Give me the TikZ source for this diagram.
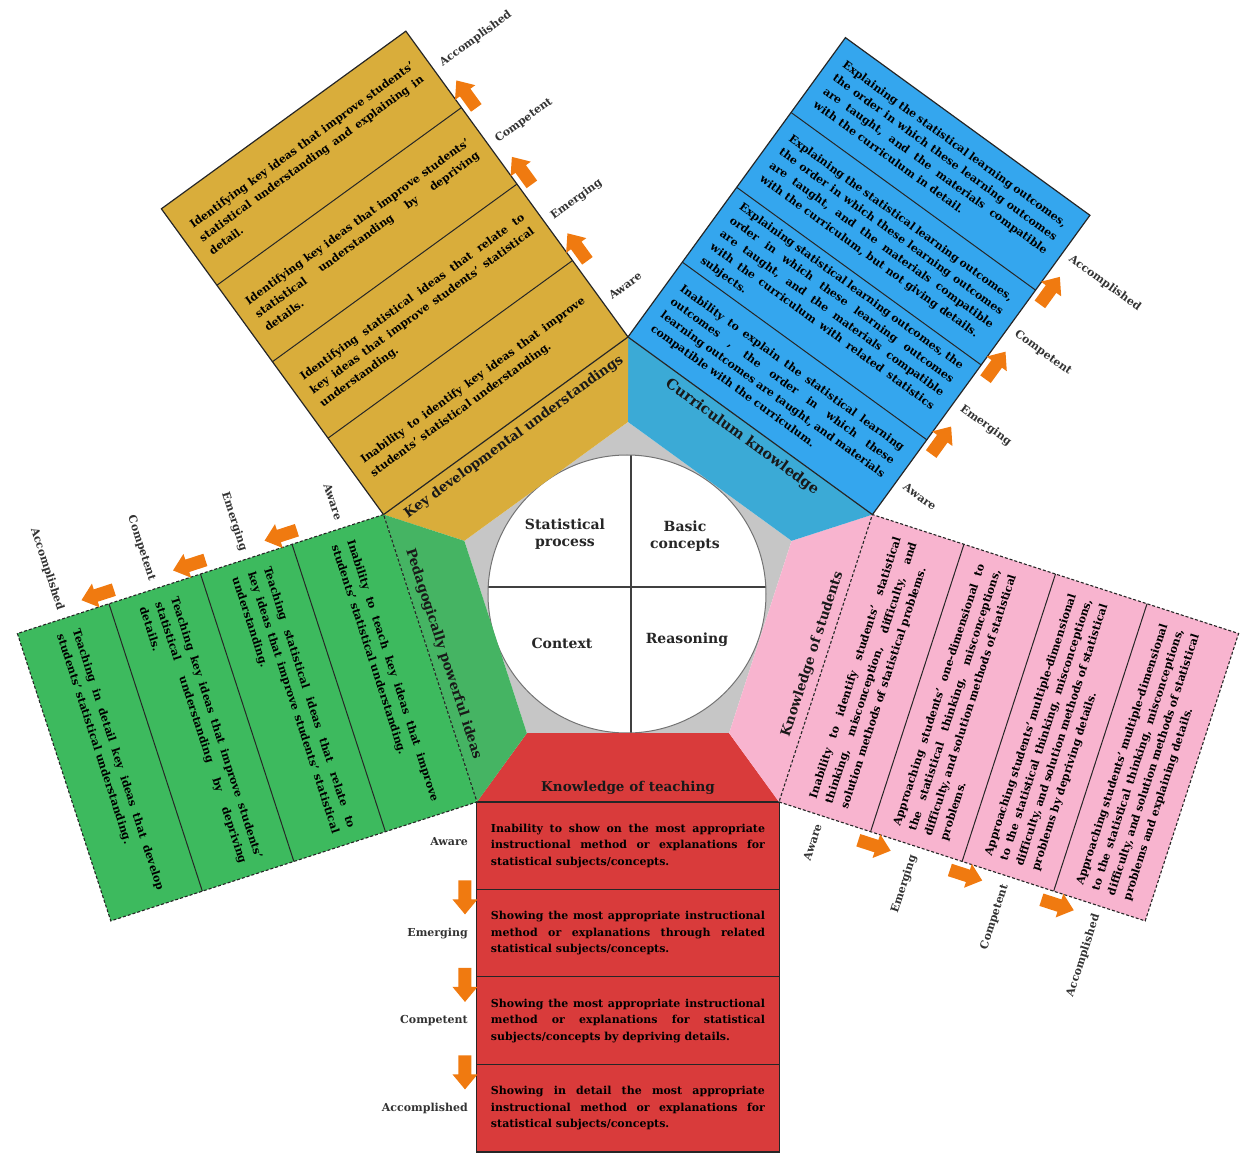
\documentclass[tikz,border=0pt]{standalone}
\usepackage{fontspec}
\setmainfont{DejaVu Serif}
\usetikzlibrary{calc}
\hyphenpenalty=10000 \exhyphenpenalty=10000 \tolerance=9999 \emergencystretch=3em
\definecolor{redc}{HTML}{D93B3B}
\definecolor{pinkc}{HTML}{F8B4CF}
\definecolor{bluec}{HTML}{34A6EE}
\definecolor{bluet}{HTML}{3BAAD6}
\definecolor{yelc}{HTML}{D9AD3B}
\definecolor{greenc}{HTML}{3DBA5E}
\definecolor{greent}{HTML}{45B463}
\definecolor{greyc}{HTML}{C6C6C6}
\definecolor{arrc}{HTML}{F07A10}
\tikzset{
  cellline/.style={line width=1pt, draw=black!85},
  celltext/.style={text width=274pt, align=justify, inner sep=0pt, text=black,
    font=\bfseries\fontsize{11}{16.5}\selectfont},
  lab/.style={font=\bfseries\fontsize{11}{13}\selectfont, text=black!80, inner sep=1pt},
  ttl/.style={font=\bfseries\fontsize{13.5}{16}\selectfont, inner sep=0pt, text=black!90},
  arr/.style={fill=arrc},
  solidb/.style={draw=black!85, line width=1.2pt},
  dashb/.style={draw=black!85, line width=1.1pt, densely dashed},
  red rect/.style={fill=redc}, red trap/.style={fill=redc}, red border/.style={solidb},
  red lab/.style={lab, anchor=east}, red title/.style={ttl},
  pink rect/.style={fill=pinkc}, pink trap/.style={fill=pinkc}, pink border/.style={dashb},
  pink lab/.style={lab, anchor=east}, pink title/.style={ttl},
  blue rect/.style={fill=bluec}, blue trap/.style={fill=bluet}, blue border/.style={solidb},
  blue lab/.style={lab, anchor=west}, blue title/.style={ttl, font=\bfseries\fontsize{14.5}{17}\selectfont},
  yel rect/.style={fill=yelc}, yel trap/.style={fill=yelc}, yel border/.style={solidb},
  yel lab/.style={lab, anchor=west}, yel title/.style={ttl},
  green rect/.style={fill=greenc}, green trap/.style={fill=greent}, green border/.style={dashb},
  green lab/.style={lab, anchor=east}, green title/.style={ttl},
  qlab/.style={font=\bfseries\fontsize{14}{17}\selectfont, align=center, text=black!85}
}
% #1 id, #2 rotation, #3 text rotation, #4 length, #5 title, #6-#9 cells
\newcommand\mysector[9]{%
\begin{scope}[rotate=#2, transform shape]
  \pgfmathsetmacro\Lq{#4/4}
  \fill[#1 trap] (-101.1,-139.2) -- (101.1,-139.2) -- (151.1,-207.9) -- (-151.1,-207.9) -- cycle;
  \fill[#1 rect] (-151.1,-207.9) rectangle (151.1,{-207.9-#4});
  \foreach \k in {1,2,3}{\draw[cellline] (-151.1,{-207.9-\k*\Lq}) -- (151.1,{-207.9-\k*\Lq});}
  \draw[#1 border] (-151.1,-207.9) rectangle (151.1,{-207.9-#4});
  \node[#1 title, rotate=#3] (#1-title) at (0,-194) {#5};
  \node[celltext, rotate=#3] (#1-c1) at (0,{-207.9-0.5*\Lq}) {#6};
  \node[celltext, rotate=#3] (#1-c2) at (0,{-207.9-1.5*\Lq}) {#7};
  \node[celltext, rotate=#3] (#1-c3) at (0,{-207.9-2.5*\Lq}) {#8};
  \node[celltext, rotate=#3] (#1-c4) at (0,{-207.9-3.5*\Lq}) {#9};
  \node[#1 lab, rotate=#3] (#1-l1) at (-159,{-207.9-0.5*\Lq+4}) {Aware};
  \node[#1 lab, rotate=#3] (#1-l2) at (-159,{-207.9-1.5*\Lq}) {Emerging};
  \node[#1 lab, rotate=#3] (#1-l3) at (-159,{-207.9-2.5*\Lq}) {Competent};
  \node[#1 lab, rotate=#3] (#1-l4) at (-159,{-207.9-3.5*\Lq}) {Accomplished};
  \foreach \k in {1,2,3}{\fill[arr] (-163,{-207.9-\k*\Lq+9}) ++(-6.5,0) -- ++(13,0) -- ++(0,-19) -- ++(6,0) -- ++(-12.5,-15) -- ++(-12.5,15) -- ++(6,0) -- cycle;}
\end{scope}}
\begin{document}
\begin{tikzpicture}[x=1pt,y=1pt]
\useasboundingbox (-628,-560) rectangle (622,594);
% grey pentagon
\fill[greyc] (90:172) -- (18:172) -- (-54:172) -- (-126:172) -- (162:172) -- cycle;
% circle
\fill[white] (-1,0) circle (139);
\begin{scope}
  \clip (-1,0) circle (139);
  \draw[line width=1.4pt, black!75] (3,-150) -- (3,150);
  \draw[line width=1.4pt, black!75] (-150,7) -- (150,7);
\end{scope}
\draw[line width=1pt, black!55] (-1,0) circle (139);
\node[qlab] (q-sp) at (-63,60) {Statistical\\process};
\node[qlab] (q-bc) at (57,58) {Basic\\concepts};
\node[qlab] (q-ct) at (-66,-49) {Context};
\node[qlab] (q-rs) at (59,-46) {Reasoning};
% sectors
\mysector{red}{0}{0}{350}{Knowledge of teaching}
 {Inability to show on the most appropriate instructional method or explanations for statistical subjects/concepts.}
 {Showing the most appropriate instructional method or explanations through related statistical subjects/concepts.}
 {Showing the most appropriate instructional method or explanations for statistical subjects/concepts by depriving details.}
 {Showing in detail the most appropriate instructional method or explanations for statistical subjects/concepts.}
\mysector{pink}{72}{0}{385}{Knowledge of students}
 {Inability to identify students' statistical thinking, misconception, difficulty, and solution methods of statistical problems.}
 {Approaching students' one-dimensional to the statistical thinking, misconceptions, difficulty, and solution methods of statistical problems.}
 {Approaching students' multiple-dimensional to the statistical thinking, misconceptions, difficulty, and solution methods of statistical problems by depriving details.}
 {Approaching students' multiple-dimensional to the statistical thinking, misconceptions, difficulty, and solution methods of statistical problems and explaining details.}
\mysector{blue}{144}{180}{370}{Curriculum knowledge}
 {Inability to explain the statistical learning outcomes , the order in which these learning outcomes are taught, and materials compatible with the curriculum.}
 {Explaining statistical learning outcomes, the order in which these learning outcomes are taught, and the materials compatible with the curriculum with related statistics subjects.}
 {Explaining the statistical learning outcomes, the order in which these learning outcomes are taught, and the materials compatible with the curriculum, but not giving details.}
 {Explaining the statistical learning outcomes, the order in which these learning outcomes are taught, and the materials compatible with the curriculum in detail.}
\mysector{yel}{216}{180}{378}{Key developmental understandings}
 {Inability to identify key ideas that improve students' statistical understanding.}
 {Identifying statistical ideas that relate to key ideas that improve students' statistical understanding.}
 {Identifying key ideas that improve students' statistical understanding by depriving details.}
 {Identifying key ideas that improve students' statistical understanding and explaining in detail.}
\mysector{green}{288}{0}{385}{Pedagogically powerful ideas}
 {Inability to teach key ideas that improve students' statistical understanding.}
 {Teaching statistical ideas that relate to key ideas that improve students' statistical understanding.}
 {Teaching key ideas that improve students' statistical understanding by depriving details.}
 {Teaching in detail key ideas that develop students' statistical understanding.}
\end{tikzpicture}
\end{document}
